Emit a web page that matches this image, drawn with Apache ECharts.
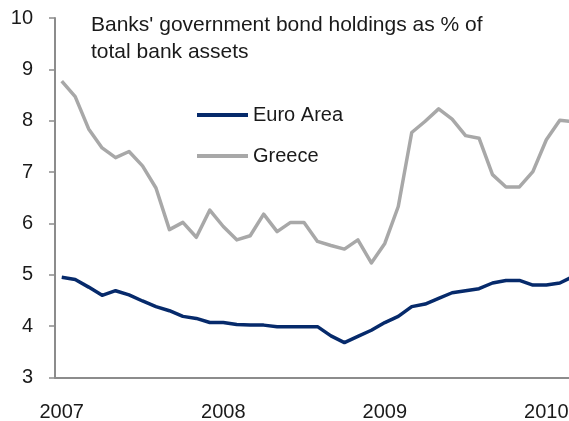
<!DOCTYPE html>
<html>
<head>
<meta charset="utf-8">
<script src="https://cdn.jsdelivr.net/npm/echarts@6/dist/echarts.min.js"></script>
<style>
  html, body { margin: 0; padding: 0; background: #ffffff; }
  #chart { width: 569px; height: 421px; }
</style>
</head>
<body>
<div id="chart"></div>
<script>
// Monthly observations, Jan 2007 – Mar 2010
const months = [
  '2007-01','2007-02','2007-03','2007-04','2007-05','2007-06','2007-07','2007-08','2007-09','2007-10','2007-11','2007-12',
  '2008-01','2008-02','2008-03','2008-04','2008-05','2008-06','2008-07','2008-08','2008-09','2008-10','2008-11','2008-12',
  '2009-01','2009-02','2009-03','2009-04','2009-05','2009-06','2009-07','2009-08','2009-09','2009-10','2009-11','2009-12',
  '2010-01','2010-02','2010-03'
];

// Government bond holdings as % of total bank assets
const euroArea = [
  4.95, 4.91, 4.76, 4.60, 4.69, 4.61, 4.49, 4.38, 4.30, 4.19, 4.15, 4.07,
  4.07, 4.03, 4.02, 4.02, 3.99, 3.99, 3.99, 3.99, 3.81, 3.68, 3.80, 3.92,
  4.07, 4.19, 4.38, 4.43, 4.54, 4.65, 4.69, 4.73, 4.84, 4.89, 4.89, 4.80,
  4.80, 4.84, 4.97
];
const greece = [
  8.77, 8.47, 7.84, 7.47, 7.28, 7.40, 7.12, 6.69, 5.88, 6.02, 5.73, 6.26,
  5.94, 5.68, 5.76, 6.18, 5.84, 6.02, 6.02, 5.65, 5.57, 5.50, 5.68, 5.23,
  5.61, 6.33, 7.77, 7.99, 8.23, 8.03, 7.71, 7.66, 6.95, 6.71, 6.71, 7.01,
  7.63, 8.01, 7.98
];

const titleLines = ["Banks' government bond holdings as % of", 'total bank assets'];
const seriesNames = ['Euro Area', 'Greece'];

const FONT = 'Liberation Sans, Arial, sans-serif';
const TEXT = '#1a1a1a';
const AXIS = '#8c8c8c';

const chart = echarts.init(document.getElementById('chart'), null, { renderer: 'canvas' });

chart.setOption({
  animation: false,
  backgroundColor: '#ffffff',
  title: {
    text: titleLines.join('\n'),
    left: 86,
    top: 7,
    padding: [5, 5, 5, 5],
    textStyle: { fontFamily: FONT, fontSize: 21, fontWeight: 'normal', color: TEXT, lineHeight: 27 }
  },
  legend: {
    orient: 'vertical',
    left: 197,
    top: 104,
    padding: 0,
    icon: 'rect',
    itemWidth: 51,
    itemHeight: 4,
    itemGap: 19,
    textStyle: { fontFamily: FONT, fontSize: 20, color: TEXT, lineHeight: 22, padding: [0, 0, 0, 0] },
    data: seriesNames
  },
  // the plot runs a little past the right edge, so the last month is cut off
  grid: { left: 55, width: 525, top: 18, bottom: 43.5, containLabel: false, outerBoundsMode: 'none' },
  xAxis: {
    type: 'category',
    data: months,
    boundaryGap: true,
    axisLine: { lineStyle: { color: AXIS, width: 2 } },
    axisTick: { interval: 11, length: 5, lineStyle: { color: AXIS, width: 1 } },
    axisLabel: {
      interval: 11,
      margin: 25,
      fontFamily: FONT, fontSize: 20, color: TEXT,
      formatter: v => v.slice(0, 4)
    },
    splitLine: { show: false }
  },
  yAxis: {
    type: 'value',
    min: 3,
    max: 10,
    interval: 1,
    axisLine: { show: true, lineStyle: { color: AXIS, width: 2 } },
    axisTick: { show: true, length: 6, lineStyle: { color: AXIS, width: 1.5 } },
    axisLabel: { margin: 22, fontFamily: FONT, fontSize: 20, color: TEXT },
    splitLine: { show: false }
  },
  series: [
    {
      name: seriesNames[0],
      type: 'line',
      data: euroArea,
      showSymbol: false,
      color: '#062a6b',
      lineStyle: { width: 3.5, color: '#062a6b', join: 'round' },
      z: 3
    },
    {
      name: seriesNames[1],
      type: 'line',
      data: greece,
      showSymbol: false,
      color: '#a8a8a8',
      lineStyle: { width: 3.5, color: '#a8a8a8', join: 'round' },
      z: 2
    }
  ]
});
</script>
</body>
</html>
